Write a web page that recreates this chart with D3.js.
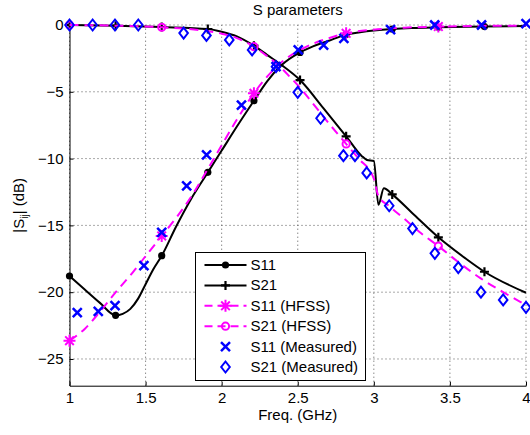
<!DOCTYPE html>
<html>
<head>
<meta charset="utf-8">
<script src="https://cdn.jsdelivr.net/npm/d3@7"></script>
<style>
  body { margin: 0; background: #fff; }
  svg { font-family: "Liberation Sans", Arial, sans-serif; }
  .grid line { stroke: #555; stroke-width: 1; stroke-dasharray: 1,3; }
  .axis text { font-size: 15px; fill: #000; }
  .axis line, .axis path { stroke: #000; }
</style>
</head>
<body>
<div id="chart"></div>
<script>
// S parameters: simulated, HFSS and measured |S11| / |S21| in dB

var xTicks = [1, 1.5, 2, 2.5, 3, 3.5, 4]
var yTicks = [-25, -20, -15, -10, -5, 0]

// simulated (circuit) curves, [GHz, dB]
var s11Sim = [[1.000,-18.79],[1.100,-19.8],[1.200,-20.8],[1.303,-21.73],[1.350,-21.62],[1.400,-21.25],
  [1.450,-20.5],[1.500,-19.4],[1.550,-18.3],[1.606,-17.27],[1.700,-15.1],[1.800,-13.0],[1.909,-11.03],
  [2.000,-9.4],[2.100,-7.6],[2.212,-5.67],[2.300,-4.2],[2.394,-3.0],[2.515,-2.05],[2.600,-1.6],
  [2.700,-1.2],[2.818,-0.72],[2.909,-0.55],[3.000,-0.42],[3.121,-0.3],[3.250,-0.22],[3.424,-0.17],
  [3.727,-0.12],[4.000,-0.08]]

var s21Sim = [[1.000,0],[1.303,-0.05],[1.606,-0.15],[1.909,-0.3],[2.000,-0.5],[2.100,-0.85],
  [2.212,-1.55],[2.300,-2.25],[2.394,-3.0],[2.515,-4.12],[2.667,-6.2],[2.818,-8.33],[2.920,-9.8],
  [2.955,-10.1],[3.000,-10.18],[3.030,-13.45],[3.066,-12.22],[3.121,-12.68],[3.250,-14.05],
  [3.424,-15.89],[3.600,-17.45],[3.727,-18.47],[4.000,-20.04]]

// HFSS curves
var s11Hfss = [[1.000,-23.63],[1.100,-22.75],[1.200,-21.46],[1.300,-20.05],[1.420,-18.46],[1.500,-17.3],
  [1.606,-15.79],[1.700,-14.45],[1.800,-12.85],[1.900,-10.95],[2.000,-9.0],[2.100,-7.08],[2.212,-5.11],
  [2.300,-3.85],[2.372,-3.0],[2.450,-2.3],[2.515,-1.87],[2.600,-1.4],[2.700,-1.0],[2.818,-0.62],
  [3.000,-0.35],[3.200,-0.2],[3.424,-0.12],[3.700,-0.07],[4.000,-0.05]]

var s21Hfss = [[1.000,0],[1.303,-0.05],[1.606,-0.17],[1.900,-0.45],[2.000,-0.65],[2.100,-0.98],
  [2.212,-1.62],[2.306,-2.4],[2.372,-3.0],[2.450,-3.9],[2.515,-4.7],[2.580,-5.6],[2.700,-7.3],
  [2.818,-8.9],[2.900,-10.0],[3.000,-11.5],[3.030,-12.8],[3.100,-13.55],[3.200,-14.5],[3.300,-15.5],
  [3.424,-16.55],[3.550,-17.7],[3.700,-18.95],[3.850,-20.0],[4.000,-20.96]]

// where the markers sit on the curves
var simMarkF = [1.000, 1.303, 1.606, 1.909, 2.212, 2.515, 2.818, 3.121, 3.424, 3.727]
var hfssMarkF = [1.000, 1.606, 2.212, 2.818, 3.424]

// measured points
var s11Meas = [[1.051,-21.53],[1.189,-21.43],[1.299,-21.01],[1.489,-18.02],[1.606,-15.52],[1.770,-12.05],
  [1.901,-9.73],[2.130,-6.0],[2.357,-3.12],[2.503,-1.87],[2.670,-1.5],[2.803,-1.0],[3.110,-0.35],
  [3.400,0.0],[3.708,0.0],[4.000,0.1]]

var s21Meas = [[1.000,0],[1.152,0],[1.299,0],[1.452,0],[1.750,-0.6],[1.900,-0.78],[2.050,-1.12],
  [2.200,-1.87],[2.357,-3.12],[2.500,-5.04],[2.650,-6.98],[2.800,-9.78],[2.876,-9.78],[2.953,-11.07],
  [3.101,-13.53],[3.254,-15.24],[3.401,-17.09],[3.555,-18.16],[3.704,-20.0],[3.850,-20.58],[4.000,-21.13]]

var legendLabels = ["S11", "S21", "S11 (HFSS)", "S21 (HFSS)", "S11 (Measured)", "S21 (Measured)"]

var width = 530, height = 435

var svg = d3.select('#chart').append('svg')
  .attr('width', width)
  .attr('height', height)

var x = d3.scaleLinear().domain([1, 4]).range([69.5, 526])
var y = d3.scaleLinear().domain([-27, 0]).range([385.7, 25])

// grid

var grid = svg.append('g').attr('class', 'grid')

grid.selectAll('.gx').data(xTicks).enter().append('line')
  .attr('x1', function(d){ return x(d) }).attr('x2', function(d){ return x(d) })
  .attr('y1', y(-27)).attr('y2', y(0))

grid.selectAll('.gy').data(yTicks).enter().append('line')
  .attr('y1', function(d){ return y(d) }).attr('y2', function(d){ return y(d) })
  .attr('x1', x(1)).attr('x2', x(4))

// axes

svg.append('g')
  .attr('class', 'axis')
  .attr('transform', 'translate(0,' + y(-27) + ')')
  .call(d3.axisBottom(x).tickValues(xTicks).tickFormat(d3.format('')).tickSizeInner(-4).tickSizeOuter(0).tickPadding(7))

svg.append('g')
  .attr('class', 'axis')
  .attr('transform', 'translate(' + x(1) + ',0)')
  .call(d3.axisLeft(y).tickValues(yTicks).tickSizeInner(-4).tickSizeOuter(0).tickPadding(6))

svg.selectAll('.axis path').attr('stroke-width', 1)

// lines

var line = d3.line()
  .x(function(d){ return x(d[0]) })
  .y(function(d){ return y(d[1]) })
  .curve(d3.curveMonotoneX)

var series = [
  {data: s11Sim, color: '#000', dash: null, marker: 'dot', marks: simMarkF},
  {data: s21Sim, color: '#000', dash: null, marker: 'plus', marks: simMarkF},
  {data: s11Hfss, color: '#ff00ff', dash: '9,6', marker: 'star', marks: hfssMarkF},
  {data: s21Hfss, color: '#ff00ff', dash: '9,6', marker: 'circle', marks: hfssMarkF},
  {data: s11Meas, color: '#0000ff', dash: null, marker: 'x', marks: null, noLine: true},
  {data: s21Meas, color: '#0000ff', dash: null, marker: 'diamond', marks: null, noLine: true}
]

function drawMarker(g, type, cx, cy, color) {
  var m = g.append('g').attr('transform', 'translate(' + cx + ',' + cy + ')')
  if (type == 'dot') {
    m.append('circle').attr('r', 3.6).attr('fill', color)
  } else if (type == 'plus') {
    m.append('path').attr('d', 'M-4.5,0H4.5M0,-4.5V4.5')
      .attr('stroke', color).attr('stroke-width', 2.2).attr('fill', 'none')
  } else if (type == 'star') {
    m.append('path').attr('d', 'M-6,0H6M0,-6V6M-4.3,-4.3L4.3,4.3M-4.3,4.3L4.3,-4.3')
      .attr('stroke', color).attr('stroke-width', 2).attr('fill', 'none')
  } else if (type == 'circle') {
    m.append('circle').attr('r', 3.6)
      .attr('stroke', color).attr('stroke-width', 2).attr('fill', 'none')
  } else if (type == 'x') {
    m.append('path').attr('d', 'M-4.5,-4.5L4.5,4.5M-4.5,4.5L4.5,-4.5')
      .attr('stroke', color).attr('stroke-width', 2.5).attr('fill', 'none')
  } else if (type == 'diamond') {
    m.append('path').attr('d', 'M0,-5.5L4.3,0L0,5.5L-4.3,0Z')
      .attr('stroke', color).attr('stroke-width', 2).attr('fill', 'none')
  }
}

var plot = svg.append('g')

series.forEach(function(s){
  if (!s.noLine) {
    plot.append('path')
      .datum(s.data)
      .attr('d', line)
      .attr('fill', 'none')
      .attr('stroke', s.color)
      .attr('stroke-width', 2)
      .attr('stroke-dasharray', s.dash)
  }
  var pts = s.marks ? s.data.filter(function(d){ return s.marks.indexOf(d[0]) >= 0 }) : s.data
  pts.forEach(function(d){
    drawMarker(plot, s.marker, x(d[0]), y(d[1]), s.color)
  })
})

// title and labels

svg.append('text')
  .attr('x', (x(1) + x(4)) / 2).attr('y', 15)
  .attr('text-anchor', 'middle')
  .style('font-size', '15px')
  .text('S parameters')

svg.append('text')
  .attr('x', (x(1) + x(4)) / 2).attr('y', 420)
  .attr('text-anchor', 'middle')
  .style('font-size', '15px')
  .text('Freq. (GHz)')

var yl = svg.append('text')
  .attr('transform', 'translate(24,' + (y(0) + y(-27)) / 2 + ') rotate(-90)')
  .attr('text-anchor', 'middle')
  .style('font-size', '15px')
yl.append('tspan').text('|S')
yl.append('tspan').attr('dy', 4).style('font-size', '10px').text('ij')
yl.append('tspan').attr('dy', -4).text('| (dB)')

// legend

var legend = svg.append('g').attr('transform', 'translate(195.5,252.5)')

legend.append('rect')
  .attr('width', 170).attr('height', 128)
  .attr('fill', '#fff').attr('stroke', '#000').attr('stroke-width', 1)

legendLabels.forEach(function(label, i){
  var s = series[i]
  var ly = 12.5 + i * 20.4
  if (!s.noLine) {
    legend.append('line')
      .attr('x1', 9).attr('x2', 51).attr('y1', ly).attr('y2', ly)
      .attr('stroke', s.color).attr('stroke-width', 2)
      .attr('stroke-dasharray', s.dash ? '8,5' : null)
  }
  drawMarker(legend, s.marker, 30, ly, s.color)
  legend.append('text')
    .attr('x', 55).attr('y', ly + 5)
    .style('font-size', '15px')
    .text(label)
})
</script>
</body>
</html>
